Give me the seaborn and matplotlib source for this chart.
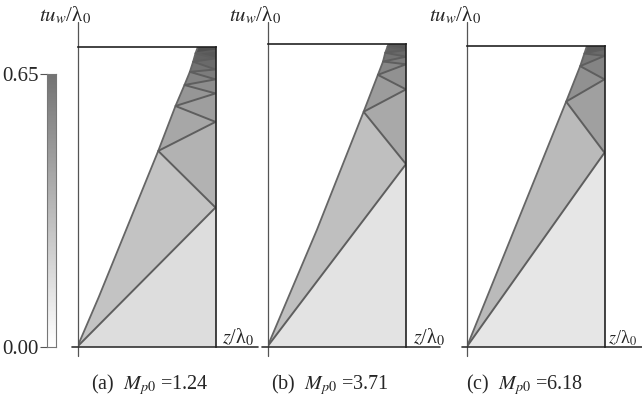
import numpy as np
import seaborn as sns
import matplotlib
matplotlib.use("Agg")
import matplotlib.pyplot as plt
from matplotlib.colors import LinearSegmentedColormap

# ---- data -----------------------------------------------------------------
# z and t are normalised to the width / height of each space-time box.
panel_tags = ["(a)", "(b)", "(c)"]
mach_values = ["1.24", "3.71", "6.18"]
cbar_ticks = [0.00, 0.65]

# piston / front trajectory
front_t_a = [0.0, 0.165, 0.653, 0.803, 0.873, 0.917, 0.951, 0.979, 1.0]
front_z_a = [0.0, 0.154, 0.585, 0.710, 0.775, 0.814, 0.838, 0.855, 0.872]
front_t_b = [0.0, 0.386, 0.776, 0.898, 0.942, 0.971, 1.0]
front_z_b = [0.0, 0.357, 0.694, 0.797, 0.834, 0.850, 0.874]
front_t_c = [0.0, 0.815, 0.933, 1.0]
front_z_c = [0.0, 0.721, 0.823, 0.872]

# times at which the reflected wave reaches the end wall / the front
wall_t_a = [0.464, 0.750, 0.845, 0.892, 0.925, 0.962, 0.988]
hit_t_a = [0.653, 0.803, 0.873, 0.917, 0.951, 0.979]
wall_t_b = [0.603, 0.850, 0.933, 0.958, 0.980]
hit_t_b = [0.776, 0.898, 0.942, 0.971, 0.991]
wall_t_c = [0.645, 0.889, 0.967, 0.990]
hit_t_c = [0.815, 0.933, 0.975]

# density level in each region between successive wave fronts
levels_a = [0.16, 0.28, 0.36, 0.41, 0.45, 0.49, 0.53, 0.57, 0.61, 0.65, 0.69, 0.73, 0.77, 0.81]
levels_b = [0.13, 0.30, 0.40, 0.46, 0.51, 0.56, 0.61, 0.65, 0.69, 0.73, 0.77]
levels_c = [0.12, 0.32, 0.44, 0.51, 0.57, 0.63, 0.69, 0.75]

panels = [
    (front_t_a, front_z_a, wall_t_a, hit_t_a, levels_a),
    (front_t_b, front_z_b, wall_t_b, hit_t_b, levels_b),
    (front_t_c, front_z_c, wall_t_c, hit_t_c, levels_c),
]

# ---- style ----------------------------------------------------------------
sns.set_style("white")
plt.rcParams["font.family"] = ["Liberation Serif", "DejaVu Serif"]
plt.rcParams["mathtext.fontset"] = "stix"

W, H = 642, 405
fig = plt.figure(figsize=(W / 100, H / 100), dpi=100)
fig.patch.set_facecolor("white")

# white at 0, #737373 at 0.65, continuing linearly towards black
vmax = 0.65 * 255 / (255 - 115)
cmap = LinearSegmentedColormap.from_list("dens", ["#ffffff", "#000000"])

# box extents in pixels: left, right, top, bottom
boxes = [(77.5, 215.5, 47.0, 346.5), (267.5, 406.0, 44.0, 346.5), (467.0, 604.5, 46.0, 346.5)]
axis_right_px = [258, 440, 642]
caption_x_px = [150, 330, 525]
zlabel_gap_px = [7, 7, 3]
zlabel_size = [14.5, 14.5, 13]

nt, nz = 600, 280
tc = (np.arange(nt) + 0.5) / nt
zc = (np.arange(nz) + 0.5) / nz
Z, T = np.meshgrid(zc, tc)


def zigzag(front_t, front_z, wall_t, hit_t):
    hit_z = np.interp(hit_t, front_t, front_z)
    verts = [(0.0, 0.0)]
    for i, wt in enumerate(wall_t):
        verts.append((1.0, wt))
        if i < len(hit_t):
            verts.append((hit_z[i], hit_t[i]))
    return verts


def density_field(front_t, front_z, verts, levels):
    count = np.zeros(Z.shape, dtype=int)
    for (z0, t0), (z1, t1) in zip(verts[:-1], verts[1:]):
        lo, hi = min(z0, z1), max(z0, z1)
        tseg = t0 + (t1 - t0) * (Z - z0) / (z1 - z0)
        count += ((Z >= lo) & (Z <= hi) & (T > tseg)).astype(int)
    field = np.asarray(levels)[np.clip(count, 0, len(levels) - 1)]
    field[Z < np.interp(T, front_t, front_z)] = 0.0
    return field[::-1]


def fig_rect(l, r, t, b):
    return [l / W, (H - b) / H, (r - l) / W, (b - t) / H]


for k, (ft, fz, wt, ht, lv) in enumerate(panels):
    l, r, t, b = boxes[k]
    rect = fig_rect(l, r, t, b)
    ax = fig.add_axes(rect)
    verts = zigzag(ft, fz, wt, ht)
    sns.heatmap(density_field(ft, fz, verts, lv), cmap=cmap, vmin=0, vmax=vmax,
                cbar=False, xticklabels=False, yticklabels=False, ax=ax,
                rasterized=True)
    for s in ax.spines.values():
        s.set_visible(False)

    ov = fig.add_axes(rect)
    ov.set_xlim(0, 1)
    ov.set_ylim(0, 1)
    ov.patch.set_alpha(0)
    ov.set_xticks([])
    ov.set_yticks([])
    ov.spines["left"].set_visible(False)
    ov.spines["bottom"].set_visible(False)
    for side in ("top", "right"):
        ov.spines[side].set_color("#222222")
        ov.spines[side].set_linewidth(1.2)

    # wave fronts
    ov.plot(fz, ft, color="#666666", lw=1.3)
    vz, vt = zip(*verts)
    ov.plot(vz, vt, color="#5e5e5e", lw=1.4)

    # axes lines extending beyond the box
    bw, bh = r - l, b - t
    ov.plot([0, 0], [-(356 - b) / bh, (b - 22) / bh], color="#555555", lw=0.9, clip_on=False)
    ov.plot([-5.5 / bw, (axis_right_px[k] - l) / bw], [0, 0],
            color="#333333", lw=1.2, clip_on=False)

    fig.text((l + 14) / W, 1 - 15 / H, r"$tu_w$/λ$_0$", ha="right", va="center",
             fontsize=15)
    fig.text((r + zlabel_gap_px[k]) / W, 1 - 343.5 / H, r"$z$/λ$_0$", ha="left",
             va="baseline", fontsize=zlabel_size[k])
    fig.text(caption_x_px[k] / W, 1 - 385 / H,
             panel_tags[k] + r"  $M_{p0}$ =" + mach_values[k],
             ha="center", va="center", fontsize=14.5)

# colour bar
cax = fig.add_axes(fig_rect(47.0, 55.5, 74.0, 346.5))
ngrad = 200
grad = np.linspace(cbar_ticks[1], cbar_ticks[0], ngrad)[:, None]
sns.heatmap(grad, cmap=cmap, vmin=0, vmax=vmax, cbar=False,
            xticklabels=False, yticklabels=False, ax=cax, rasterized=True)
for s in cax.spines.values():
    s.set_visible(True)
    s.set_color("#777777")
    s.set_linewidth(0.8)
cax.set_yticks([0, ngrad])
cax.set_yticklabels([f"{cbar_ticks[1]:.2f}", f"{cbar_ticks[0]:.2f}"])
cax.tick_params(axis="y", left=True, length=5, width=0.8, color="#555555",
                labelsize=15, pad=1, rotation=0)

fig.savefig("out.png", dpi=100, facecolor="white")
